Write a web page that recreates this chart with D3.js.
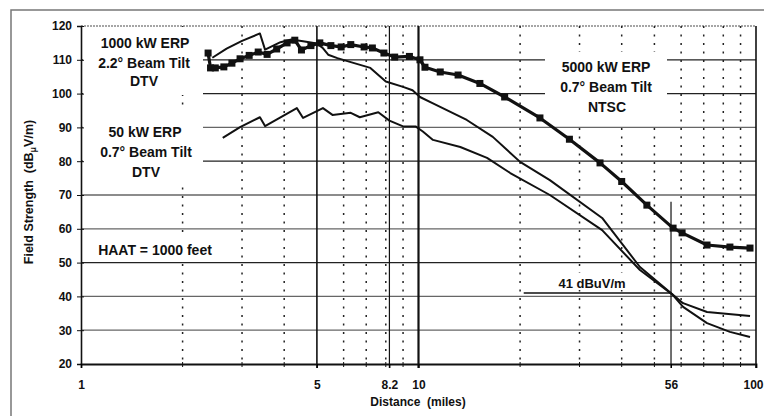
<!DOCTYPE html>
<html><head><meta charset="utf-8">
<script src="https://cdn.jsdelivr.net/npm/d3@7"></script>
<style>
html,body{margin:0;padding:0;background:#fff;}
svg text{font-family:"Liberation Sans",Arial,Helvetica,sans-serif;fill:#111;}
</style></head>
<body><svg id="c" width="764" height="416"></svg>
<script>
// ---- data ----
const yTicks = [20,30,40,50,60,70,80,90,100,110,120];
const xTickLabels = [1,5,8.2,10,56,100];
const xMinorGrid = [2,3,4,6,7,8,9,20,30,40,50,60,70,80,90];
const xMarkLines = [5,8.2,10,56];
const refLevel = 41;

const ntscDist = [2.38,2.42,2.5,2.65,2.8,2.96,3.15,3.35,3.56,3.8,4.08,4.3,4.5,4.8,5.1,5.5,5.9,6.3,6.9,7.3,7.9,8.5,9.4,10.1,10.45,11.6,13.1,15.2,18,22.9,28,34.5,40,47.5,56.8,60.4,71.6,83.7,96];
const ntscVal  = [112,107.6,107.6,107.9,109,110.3,111.3,112.3,111.6,113.2,115,115.8,112.9,114.2,115,114.2,113.8,114.5,113.8,113.5,112,110.8,111,110,107.8,106.4,105.5,103,99,92.8,86.5,79.5,74,67,60.2,58.8,55.2,54.6,54.3];

const dtv1000Dist = [2.45,2.7,3.0,3.39,3.51,3.9,4.2,4.55,5.0,5.2,5.4,5.75,6.3,7.2,8.0,9.0,9.6,10.1,11.0,13.9,16.6,20.0,24.5,35,45.3,56.5,60.8,71.6,83.7,96];
const dtv1000Val  = [110.6,113.3,115.6,117.8,113.0,115.2,116.0,115.5,114.8,113.5,111.5,110.5,109.3,107.6,103.6,102,101,99,97.2,92.2,87.2,79.8,74.4,63.2,48.7,40.6,36.9,32.1,29.5,28];

const dtv50Dist = [2.63,2.96,3.39,3.51,4.36,4.55,5.21,5.56,6.3,6.7,7.6,8.2,9.0,9.8,10.3,11.04,13.3,15.96,18.7,24.5,35,45.3,56.5,60.8,71.6,96];
const dtv50Val  = [86.9,90.1,93.0,90.4,95.7,92.8,95.7,93.7,94.3,93.0,94.5,92.0,90.3,90.3,88.8,86.3,84.2,81,76.5,70,59.6,47.8,40.6,38,35.4,34.2];

// ---- chart ----
const svg = d3.select("#c");
const x = d3.scaleLog().domain([1,100]).range([81,756]);
const y = d3.scaleLinear().domain([20,120]).range([364,26]);

// outer frame
svg.append("path").attr("d","M764,10 H11 V416").attr("fill","none").attr("stroke","#777").attr("stroke-width",1.5);

const g = svg.append("g");
const darkH = new Set([20,50,80,100,110]);
// horizontal grid
g.selectAll(".hg").data(yTicks.filter(v=>v>20)).join("line")
  .attr("x1",x(1)).attr("x2",x(100)).attr("y1",d=>y(d)).attr("y2",d=>y(d))
  .attr("stroke",d=>d===120?"#888":(darkH.has(d)?"#222":"#666"))
  .attr("stroke-width",d=>d===120?1.5:1.3)
  .attr("stroke-dasharray",d=>d===120?"2,1":null);
// minor vertical dotted
g.selectAll(".vg").data(xMinorGrid).join("line")
  .attr("x1",d=>x(d)).attr("x2",d=>x(d)).attr("y1",y(120)).attr("y2",y(20))
  .attr("stroke","#222").attr("stroke-width",1.5).attr("stroke-dasharray","2,6.5");
// marked verticals
g.selectAll(".vm").data(xMarkLines).join("line")
  .attr("x1",d=>x(d)).attr("x2",d=>x(d))
  .attr("y1",d=>d===56?y(68):y(120)).attr("y2",y(20)+4)
  .attr("stroke","#111").attr("stroke-width",d=>d===10?2.2:(d===5?1.6:1.2));
// right border
g.append("line").attr("x1",x(100)).attr("x2",x(100)).attr("y1",y(120)).attr("y2",y(20)+4).attr("stroke","#111").attr("stroke-width",1.6);

// label boxes (white)
const boxes = [[83,27,120,68],[83,108,120,77],[83,238,139,22],[545,52,122,70],[553,273,80,17]];
g.selectAll(".bx").data(boxes).join("rect")
  .attr("x",d=>d[0]).attr("y",d=>d[1]).attr("width",d=>d[2]).attr("height",d=>d[3]).attr("fill","#fff");

// reference level line
g.append("line").attr("x1",x(20.5)).attr("x2",x(56)).attr("y1",y(refLevel)).attr("y2",y(refLevel))
  .attr("stroke","#111").attr("stroke-width",1.6);

// axes
const yAxis = d3.axisLeft(y).tickValues(yTicks).tickSize(4).tickPadding(5).tickFormat(d3.format("d"));
const ya = svg.append("g").attr("transform",`translate(${x(1)},0)`).call(yAxis);
ya.select(".domain").attr("stroke","#111").attr("stroke-width",1.6);
ya.selectAll(".tick line").attr("x2",-4).attr("x1",3).attr("stroke","#111");
ya.selectAll("text").style("font-size","12px").style("font-weight","bold").attr("fill","#222");

const xAxis = d3.axisBottom(x).tickValues(xTickLabels).tickSize(4).tickPadding(12).tickFormat(d=>String(d));
const xa = svg.append("g").attr("transform",`translate(0,${y(20)})`).call(xAxis);
xa.select(".domain").attr("stroke","#111").attr("stroke-width",1.8);
xa.selectAll("text").style("font-size","12px").style("font-weight","bold").attr("fill","#333");
xa.selectAll(".tick").filter(d=>d===100).select("text").attr("text-anchor","end").attr("x",7);
xa.selectAll(".minor").data(xMinorGrid).join("line").attr("class","minor")
  .attr("x1",d=>x(d)).attr("x2",d=>x(d)).attr("y1",-2).attr("y2",3).attr("stroke","#111");

svg.append("text").attr("x",418).attr("y",406).attr("text-anchor","middle")
  .style("font-size","12px").style("font-weight","bold").attr("xml:space","preserve").text("Distance  (miles)");

const yt = svg.append("text").attr("transform","translate(33,192) rotate(-90)").attr("text-anchor","middle")
  .style("font-size","12.5px").style("font-weight","bold").attr("xml:space","preserve");
yt.append("tspan").text("Field Strength  (dB");
yt.append("tspan").attr("baseline-shift","-30%").style("font-size","9px").text("μ");
yt.append("tspan").text("V/m)");

// in-plot labels
const labels = [
  ["1000 kW ERP",145,48],["2.2° Beam Tilt",144,68],["DTV",144,86],
  ["50 kW ERP",145,137],["0.7° Beam Tilt",146,157],["DTV",146,177],
  ["HAAT = 1000 feet",155,255],
  ["5000 kW ERP",606,72],["0.7° Beam Tilt",606,92],["NTSC",607,112]
];
svg.selectAll(".lb").data(labels).join("text")
  .attr("x",d=>d[1]).attr("y",d=>d[2]).attr("text-anchor","middle")
  .style("font-size","14px").style("font-weight","bold").text(d=>d[0]);
svg.append("text").attr("x",592).attr("y",288).attr("text-anchor","middle")
  .style("font-size","13px").style("font-weight","bold").text("41 dBuV/m");

// curves
const line = d3.line().x(d=>x(d[0])).y(d=>y(d[1]));
const zip = (a,b)=>a.map((v,i)=>[v,b[i]]);
svg.append("path").datum(zip(dtv50Dist,dtv50Val)).attr("d",line).attr("fill","none").attr("stroke","#111").attr("stroke-width",2).attr("stroke-linejoin","round");
svg.append("path").datum(zip(dtv1000Dist,dtv1000Val)).attr("d",line).attr("fill","none").attr("stroke","#111").attr("stroke-width",2).attr("stroke-linejoin","round");
const ntsc = zip(ntscDist,ntscVal);
svg.append("path").datum(ntsc).attr("d",line).attr("fill","none").attr("stroke","#111").attr("stroke-width",3.2).attr("stroke-linejoin","round");
svg.selectAll(".mk").data(ntsc).join("rect")
  .attr("x",d=>x(d[0])-3.5).attr("y",d=>y(d[1])-3.5).attr("width",7).attr("height",7).attr("fill","#111");
</script></body></html>
